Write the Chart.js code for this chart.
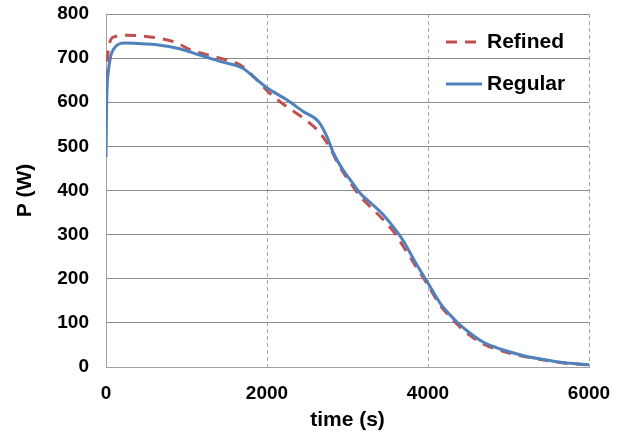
<!DOCTYPE html>
<html>
<head>
<meta charset="utf-8">
<script src="https://cdn.jsdelivr.net/npm/chart.js@4"></script>
<style>
html,body{margin:0;padding:0;background:#fff;}
#c{display:block;}
</style>
</head>
<body>
<canvas id="c" width="619" height="434"></canvas>
<script>
// time (s) and power (W)
const refinedT = [0,20,46,100,254,450,627,876,1042,1250,1453,1664,1830,2037,2245,2452,2660,2784,2900,3033,3158,3300,3448,3600,3697,3850,3988,4150,4278,4450,4692,5024,5398,5730,6000];
const refinedP = [606,700,735,748,752,750,746,735,719,708,698,685,659,620,590,564,530,496,455,418,387,360,333,300,272,228,189,140,113,82,52,31,17,8,5];

const regularT = [0,8,30,60,100,150,220,400,650,900,1080,1250,1450,1700,1850,2000,2250,2450,2640,2745,2825,2950,3035,3160,3300,3450,3600,3700,3850,3990,4150,4280,4360,4500,4690,4850,5020,5200,5400,5600,5730,6000];
const regularP = [476,600,670,705,722,731,734,733,730,722,712,702,691,677,655,633,605,579,556,522,485,445,424,393,370,344,310,284,235,193,145,117,102,80,56,44,34,25,18,12,9,5];

const xTicks = [0,2000,4000,6000];
const yTicks = [0,100,200,300,400,500,600,700,800];
const seriesNames = ['Refined','Regular'];

const RED = '#C0504D', BLUE = '#4F81BD';
const FONT = '"Liberation Sans", Arial, sans-serif';

function pts(t, p){ return t.map((v,i)=>({x:v, y:p[i]})); }

const legendPlugin = {
  id: 'insideLegend',
  afterDraw(chart){
    const ctx = chart.ctx;
    const rows = [
      {name: seriesNames[0], color: RED, dash: [11,8], y: 42},
      {name: seriesNames[1], color: BLUE, dash: [], y: 84}
    ];
    ctx.save();
    rows.forEach(r=>{
      ctx.beginPath();
      ctx.setLineDash(r.dash);
      ctx.strokeStyle = r.color;
      ctx.lineWidth = 3;
      ctx.moveTo(446, r.y);
      ctx.lineTo(482, r.y);
      ctx.stroke();
      ctx.setLineDash([]);
      ctx.fillStyle = '#000';
      ctx.font = 'bold 21px ' + FONT;
      ctx.textBaseline = 'middle';
      ctx.textAlign = 'left';
      ctx.fillText(r.name, 487, r.y);
    });
    ctx.restore();
  }
};

new Chart(document.getElementById('c'), {
  type: 'line',
  data: {
    datasets: [
      {label: seriesNames[0], data: pts(refinedT, refinedP), borderColor: RED, borderWidth: 3, borderDash: [11,8], pointRadius: 0, cubicInterpolationMode: 'monotone', fill: false, order: 1},
      {label: seriesNames[1], data: pts(regularT, regularP), borderColor: BLUE, borderWidth: 3, pointRadius: 0, cubicInterpolationMode: 'monotone', fill: false, order: 0}
    ]
  },
  options: {
    responsive: false,
    animation: false,
    devicePixelRatio: 1,
    layout: {padding: {left: 0, top: 14, right: 30, bottom: 0}},
    plugins: {legend: {display: false}, tooltip: {enabled: false}},
    scales: {
      x: {
        type: 'linear', min: 0, max: 6000,
        afterBuildTicks(s){ s.ticks = xTicks.map(v=>({value:v})); },
        afterFit(s){ s.height = 67; s.paddingLeft = 0; s.paddingRight = 0; },
        grid: {color: '#a6a6a6', lineWidth: 1, drawTicks: false},
        border: {display: true, color: '#a0a0a0', width: 1, dash: [4,3]},
        ticks: {color: '#000', font: {family: FONT, size: 19, weight: 'bold'}, padding: 15, maxRotation: 0, callback: v => String(v)},
        title: {display: true, text: 'time (s)', color: '#000', font: {family: FONT, size: 21, weight: 'bold'}, padding: {top: 0, bottom: 1}}
      },
      y: {
        type: 'linear', min: 0, max: 800,
        afterBuildTicks(s){ s.ticks = yTicks.map(v=>({value:v})); },
        afterFit(s){ s.width = 106; s.paddingTop = 0; s.paddingBottom = 0; },
        grid: {color: '#8c8c8c', lineWidth: 1, drawTicks: false},
        border: {display: true, color: '#a0a0a0', width: 1},
        ticks: {color: '#000', font: {family: FONT, size: 19, weight: 'bold'}, padding: 17, callback: v => String(v)},
        title: {display: true, text: 'P (W)', color: '#000', font: {family: FONT, size: 21, weight: 'bold'}, padding: {top: 13, bottom: 0}}
      }
    }
  },
  plugins: [legendPlugin]
});
</script>
</body>
</html>
